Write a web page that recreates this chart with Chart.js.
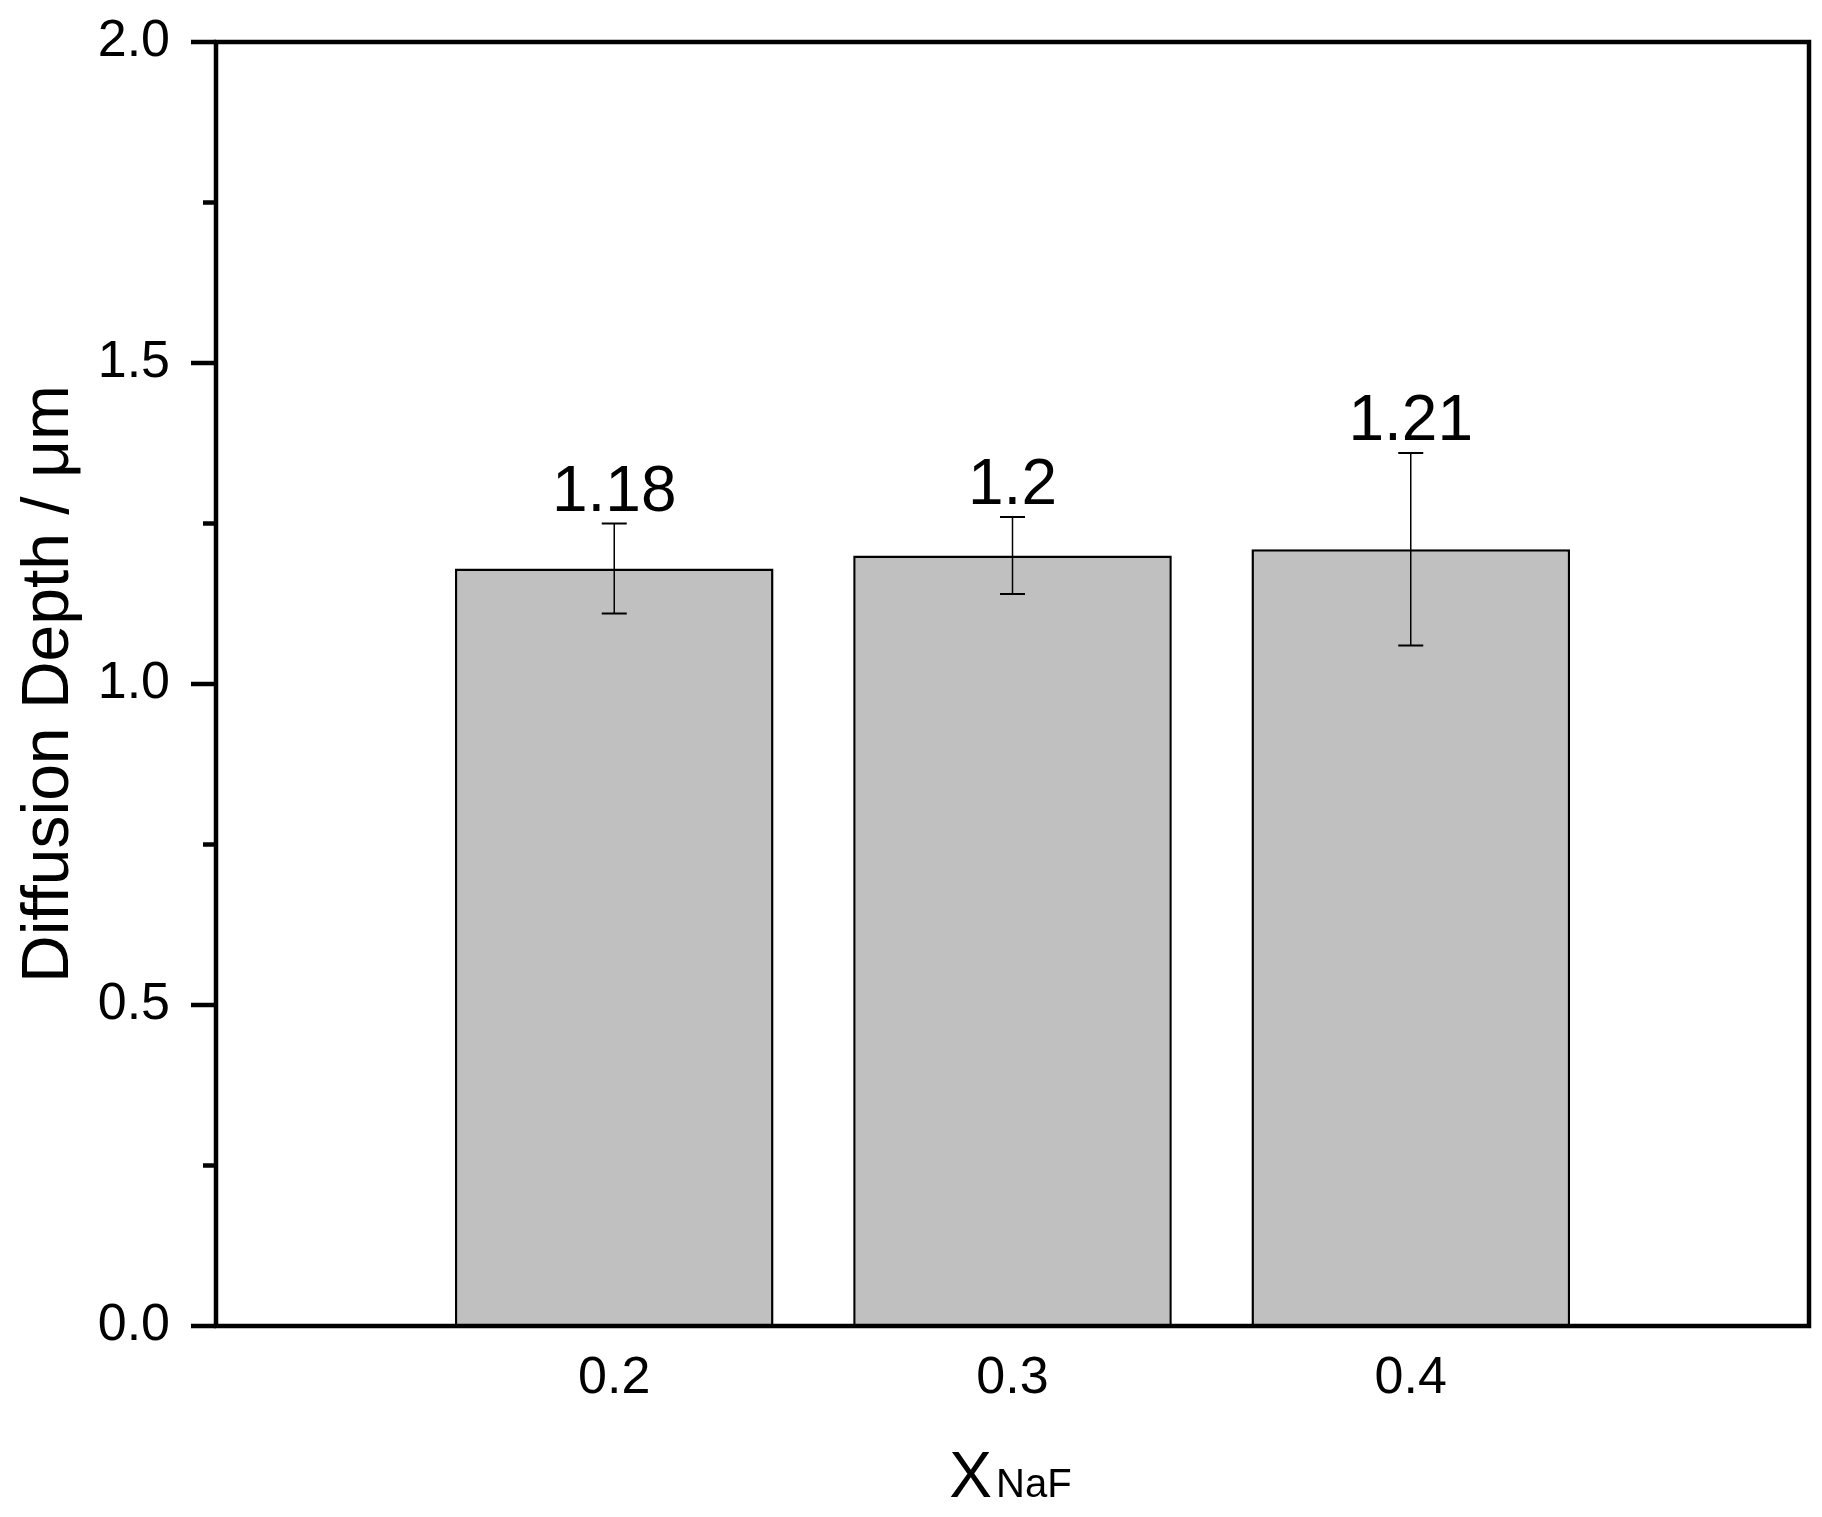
<!DOCTYPE html>
<html>
<head>
<meta charset="utf-8">
<title>Diffusion Depth vs X_NaF</title>
<script src="https://cdn.jsdelivr.net/npm/chart.js@4/dist/chart.umd.min.js"></script>
<style>
  html, body { margin: 0; padding: 0; background: #fff; }
  canvas { display: block; }
</style>
</head>
<body>
<canvas id="depthChart" width="1822" height="1517"></canvas>
<script>
// data
const xValues = [0.2, 0.3, 0.4];
const xTickLabels = ["0.2", "0.3", "0.4"];
const depth = [1.18, 1.2, 1.21];
const depthErr = [0.07, 0.06, 0.15];
const valueLabels = ["1.18", "1.2", "1.21"];
const yTicks = [0, 0.5, 1.0, 1.5, 2.0];

const FONT = "'Liberation Sans', Arial, sans-serif";

/* ================= custom drawing: frame, minor ticks, error bars, labels ================= */
const decorPlugin = {
  id: "decor",
  afterDatasetsDraw(chart) {
    const ctx = chart.ctx;
    const area = chart.chartArea;
    const xs = chart.scales.x;
    const ys = chart.scales.y;

    ctx.save();

    // error bars
    ctx.strokeStyle = "#000";
    depth.forEach((v, i) => {
      const px = xs.getPixelForValue(xValues[i]);
      const hi = ys.getPixelForValue(v + depthErr[i]);
      const lo = ys.getPixelForValue(v - depthErr[i]);
      ctx.lineWidth = 1.5;
      ctx.beginPath();
      ctx.moveTo(px, hi);
      ctx.lineTo(px, lo);
      ctx.stroke();
      ctx.lineWidth = 2;
      ctx.beginPath();
      ctx.moveTo(px - 12.5, hi);
      ctx.lineTo(px + 12.5, hi);
      ctx.moveTo(px - 12.5, lo);
      ctx.lineTo(px + 12.5, lo);
      ctx.stroke();

      // value label above the error bar
      ctx.fillStyle = "#000";
      ctx.font = "64px " + FONT;
      ctx.textAlign = "center";
      ctx.textBaseline = "alphabetic";
      ctx.fillText(valueLabels[i], px, hi - 13);
    });

    // frame
    ctx.lineWidth = 4.5;
    ctx.strokeStyle = "#000";
    ctx.strokeRect(area.left, area.top, area.right - area.left, area.bottom - area.top);

    // y ticks, major and minor, pointing out
    for (let v = 0; v <= 2.0001; v += 0.25) {
      const py = ys.getPixelForValue(v);
      const major = Math.abs(v * 2 - Math.round(v * 2)) < 1e-6;
      ctx.beginPath();
      ctx.moveTo(area.left - (major ? 25 : 13), py);
      ctx.lineTo(area.left, py);
      ctx.stroke();
    }

    // y title
    ctx.fillStyle = "#000";
    ctx.font = "66px " + FONT;
    ctx.textAlign = "center";
    ctx.textBaseline = "alphabetic";
    ctx.save();
    ctx.translate(68, 684);
    ctx.rotate(-Math.PI / 2);
    ctx.fillText("Diffusion Depth / \u03bcm", 0, 0);
    ctx.restore();

    // x title: X with subscript NaF
    const cx = (area.left + area.right) / 2 - 2;
    const baseY = 1497;
    ctx.textAlign = "left";
    ctx.font = "64px " + FONT;
    const wX = ctx.measureText("X").width;
    ctx.font = "40px " + FONT;
    const wSub = ctx.measureText("NaF").width;
    const start = cx - (wX + 4 + wSub) / 2;
    ctx.font = "64px " + FONT;
    ctx.fillText("X", start, baseY);
    ctx.font = "40px " + FONT;
    ctx.fillText("NaF", start + wX + 4, baseY);

    ctx.restore();
  }
};

function noOverflow(s) {
  s.paddingTop = 0;
  s.paddingBottom = 0;
  s.paddingLeft = 0;
  s.paddingRight = 0;
}

new Chart(document.getElementById("depthChart"), {
  type: "bar",
  data: {
    datasets: [{
      data: xValues.map((x, i) => ({ x: x, y: depth[i] })),
      backgroundColor: "#c0c0c0",
      borderColor: "#000",
      borderWidth: 2.5,
      barPercentage: 0.8,
      categoryPercentage: 1
    }]
  },
  options: {
    responsive: false,
    animation: false,
    layout: { autoPadding: false, padding: { top: 42, right: 13, left: 0, bottom: 0 } },
    plugins: {
      legend: { display: false },
      tooltip: { enabled: false }
    },
    scales: {
      x: {
        type: "linear",
        min: 0.1,
        max: 0.5,
        offset: false,
        grid: { display: false, drawTicks: false },
        border: { display: false },
        ticks: {
          stepSize: 0.1,
          padding: 21,
          color: "#000",
          font: { family: FONT, size: 52 },
          callback: v => {
            const i = xValues.findIndex(x => Math.abs(x - v) < 1e-6);
            return i >= 0 ? xTickLabels[i] : "";
          }
        },
        afterFit: s => { s.height = 191; noOverflow(s); }
      },
      y: {
        min: 0,
        max: 2,
        grid: { display: false, drawTicks: true, tickLength: 25 },
        border: { display: false },
        afterBuildTicks: s => { s.ticks = yTicks.map(v => ({ value: v })); },
        ticks: {
          padding: 21,
          color: "#000",
          font: { family: FONT, size: 52 },
          callback: v => Number(v).toFixed(1)
        },
        afterFit: s => { s.width = 216; noOverflow(s); }
      }
    }
  },
  plugins: [decorPlugin]
});
</script>
</body>
</html>
